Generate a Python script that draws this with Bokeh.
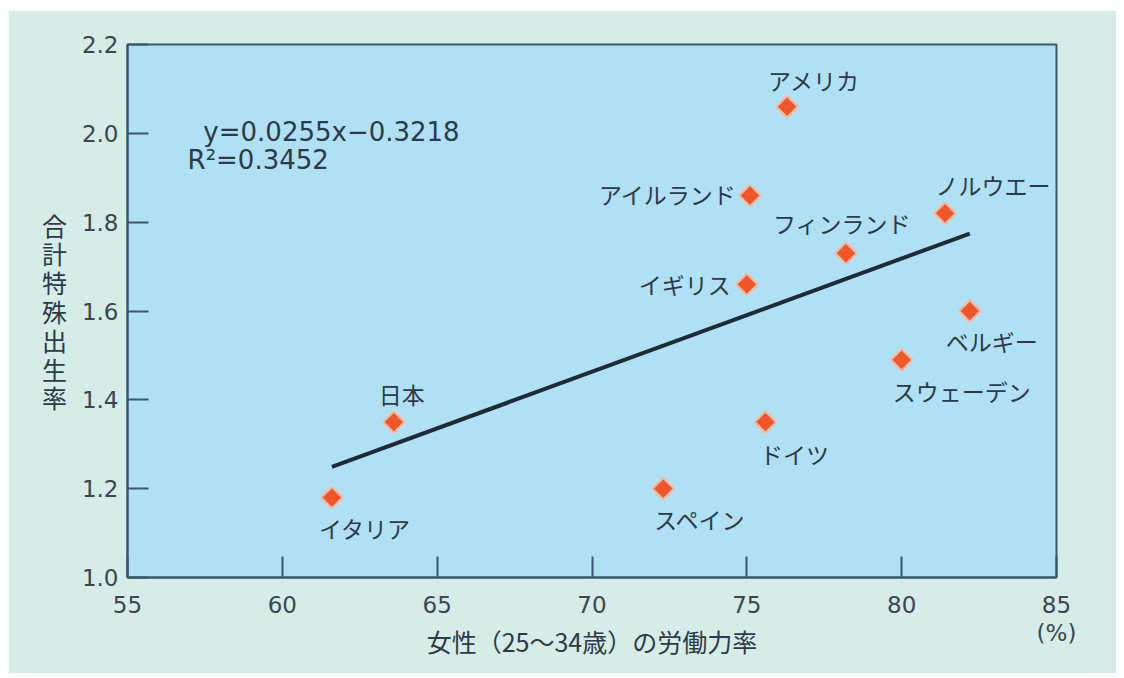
import numpy as np
from bokeh.plotting import figure
from bokeh.models import Range1d, FixedTicker, Label, ColumnDataSource, LabelSet, PrintfTickFormatter
from bokeh.core.properties import value
from bokeh.embed import file_html
from bokeh.resources import INLINE

# ---- data ----
countries = ["アメリカ", "アイルランド", "フィンランド", "イギリス", "ノルウエー", "ベルギー",
             "スウェーデン", "日本", "イタリア", "ドイツ", "スペイン"]
labor_rate = [76.3, 75.1, 78.2, 75.0, 81.4, 82.2, 80.0, 63.6, 61.6, 75.6, 72.3]
fertility = [2.06, 1.86, 1.73, 1.66, 1.82, 1.60, 1.49, 1.35, 1.18, 1.35, 1.20]
slope = 0.0255
intercept = -0.3218
r2 = 0.3452
x_ticks = [55, 60, 65, 70, 75, 80, 85]
y_ticks = [1.0, 1.2, 1.4, 1.6, 1.8, 2.0, 2.2]
x_title = "女性（25〜34歳）の労働力率"
y_title = "合計特殊出生率"
unit_label = "(%)"

# ---- label placement (screen px offsets of label centre from point; +dy = down) ----
label_dx = [27, -82, -4, -62, 48, 22, 60, 8, 33, 29, 37]
label_dy = [-27, -2, -30, 0, -28, 30, 31, -28, 30, 32, 30]

TEXT = "#2c3b47"
FRAME = "#3d5866"

p = figure(width=1108, height=663, x_range=Range1d(55, 85), y_range=Range1d(1.0, 2.2),
           output_backend="svg", toolbar_location=None,
           min_border_left=119, min_border_right=60, min_border_top=34, min_border_bottom=96)
p.margin = (10, 0, 0, 8)
p.background_fill_color = "#b0e0f3"
p.border_fill_color = "#d6ece7"
p.outline_line_color = FRAME
p.outline_line_width = 2
p.grid.visible = False

for ax in (p.xaxis[0], p.yaxis[0]):
    ax.major_tick_in = 21
    ax.major_tick_out = 0
    ax.minor_tick_line_color = None
    ax.axis_line_color = FRAME
    ax.axis_line_width = 2
    ax.major_tick_line_color = FRAME
    ax.major_tick_line_width = 2
    ax.major_label_text_font = "DejaVu Sans"
    ax.major_label_text_font_size = "23px"
    ax.major_label_text_color = "#3b4750"
    ax.major_label_text_line_height = 1.08
    ax.axis_label_text_font = "Noto Sans CJK JP"
    ax.axis_label_text_font_style = "normal"
    ax.axis_label_text_color = TEXT

xa = p.xaxis[0]
xa.ticker = FixedTicker(ticks=x_ticks)
xa.major_label_standoff = 14
xa.major_label_overrides = {x_ticks[-1]: f"{x_ticks[-1]}\n{unit_label}"}
xa.axis_label = x_title
xa.axis_label_text_font_size = "25px"
xa.axis_label_standoff = -26

ya = p.yaxis[0]
ya.ticker = FixedTicker(ticks=y_ticks)
ya.formatter = PrintfTickFormatter(format="%.1f")
ya.major_label_standoff = 9
ya.axis_label = "\n".join(y_title)
ya.axis_label_text_font_size = "25px"
ya.axis_label_text_line_height = 0.8
ya.axis_label_standoff = 12
try:
    ya.axis_label_orientation = "horizontal"
except Exception:
    pass

# regression line
lx = np.array([min(labor_rate), max(labor_rate)])
p.line(lx, slope * lx + intercept, line_color="#1f2c38", line_width=4)

# points
src = ColumnDataSource(dict(x=labor_rate, y=fertility, name=countries,
                            dx=label_dx, dy=[-d for d in label_dy]))
p.scatter("x", "y", source=src, marker="square", angle=np.pi / 4, size=15,
          fill_color="#f1562a", line_color="#f7b59a", line_width=2)

labels = LabelSet(x="x", y="y", text="name", source=src, x_offset="dx", y_offset="dy",
                  text_align="center", text_baseline="middle",
                  text_font=value("Noto Sans CJK JP"), text_font_size="23px",
                  text_color=TEXT)
p.add_layout(labels)

# equation text
p.add_layout(Label(x=57.45, y=2.002, text=f"y={slope}x\u2212{abs(intercept)}",
                   text_align="left", text_baseline="middle", text_font="DejaVu Sans",
                   text_font_size="26px", text_color=TEXT))
p.add_layout(Label(x=56.94, y=1.939, text=f"R\u00b2={r2}",
                   text_align="left", text_baseline="middle", text_font="DejaVu Sans",
                   text_font_size="26px", text_color=TEXT))

open("out.html", "w").write(file_html(p, INLINE))
